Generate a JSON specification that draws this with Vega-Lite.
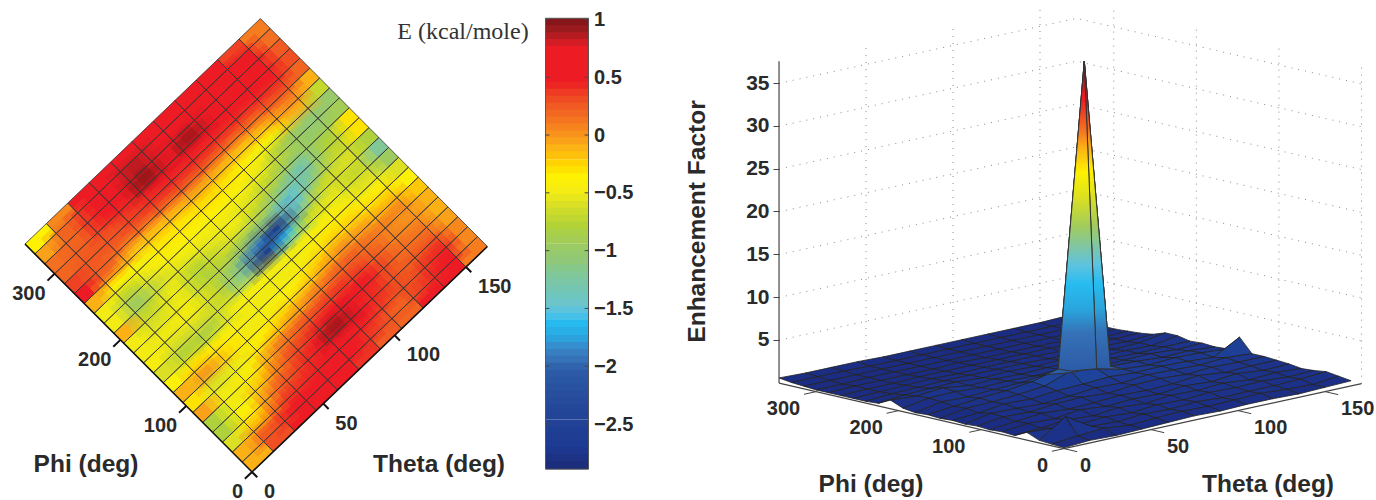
{"$schema":"https://vega.github.io/schema/vega-lite/v6.json","padding":0,"background":"white","config":{"view":{"stroke":null},"text":{"font":"Liberation Sans","fontWeight":"bold","fill":"#2a2a2a"}},
"datasets":{
"ticks":[{"axis":"phi","v":0},{"axis":"phi","v":100},{"axis":"phi","v":200},{"axis":"phi","v":300},{"axis":"theta","v":0},{"axis":"theta","v":50},{"axis":"theta","v":100},{"axis":"theta","v":150}],
"cells":[
{"t":7.5,"p":7.5,"E":-0.1},{"t":22.5,"p":7.5,"E":0.3},{"t":37.5,"p":7.5,"E":0.6},{"t":52.5,"p":7.5,"E":0.55},{"t":67.5,"p":7.5,"E":0.55},{"t":82.5,"p":7.5,"E":0.4},{"t":97.5,"p":7.5,"E":0.25},{"t":112.5,"p":7.5,"E":0.2},{"t":127.5,"p":7.5,"E":0.45},{"t":142.5,"p":7.5,"E":0.6},{"t":157.5,"p":7.5,"E":0.1},
{"t":7.5,"p":22.5,"E":-0.1},{"t":22.5,"p":22.5,"E":0.25},{"t":37.5,"p":22.5,"E":0.55},{"t":52.5,"p":22.5,"E":0.6},{"t":67.5,"p":22.5,"E":0.55},{"t":82.5,"p":22.5,"E":0.5},{"t":97.5,"p":22.5,"E":0.35},{"t":112.5,"p":22.5,"E":0.2},{"t":127.5,"p":22.5,"E":0.35},{"t":142.5,"p":22.5,"E":0.55},{"t":157.5,"p":22.5,"E":0.05},
{"t":7.5,"p":37.5,"E":-0.6},{"t":22.5,"p":37.5,"E":-0.2},{"t":37.5,"p":37.5,"E":0.3},{"t":52.5,"p":37.5,"E":0.4},{"t":67.5,"p":37.5,"E":0.5},{"t":82.5,"p":37.5,"E":0.6},{"t":97.5,"p":37.5,"E":0.5},{"t":112.5,"p":37.5,"E":0.35},{"t":127.5,"p":37.5,"E":0.25},{"t":142.5,"p":37.5,"E":0.4},{"t":157.5,"p":37.5,"E":0.05},
{"t":7.5,"p":52.5,"E":-0.8},{"t":22.5,"p":52.5,"E":-0.4},{"t":37.5,"p":52.5,"E":0.1},{"t":52.5,"p":52.5,"E":0.3},{"t":67.5,"p":52.5,"E":0.5},{"t":82.5,"p":52.5,"E":0.95},{"t":97.5,"p":52.5,"E":0.6},{"t":112.5,"p":52.5,"E":0.4},{"t":127.5,"p":52.5,"E":0.2},{"t":142.5,"p":52.5,"E":0.2},{"t":157.5,"p":52.5,"E":-0.05},
{"t":7.5,"p":67.5,"E":-0.8},{"t":22.5,"p":67.5,"E":-0.5},{"t":37.5,"p":67.5,"E":-0.2},{"t":52.5,"p":67.5,"E":0.2},{"t":67.5,"p":67.5,"E":0.35},{"t":82.5,"p":67.5,"E":0.6},{"t":97.5,"p":67.5,"E":0.6},{"t":112.5,"p":67.5,"E":0.45},{"t":127.5,"p":67.5,"E":0.2},{"t":142.5,"p":67.5,"E":0.1},{"t":157.5,"p":67.5,"E":-0.1},
{"t":7.5,"p":82.5,"E":-0.05},{"t":22.5,"p":82.5,"E":-0.5},{"t":37.5,"p":82.5,"E":-0.4},{"t":52.5,"p":82.5,"E":0},{"t":67.5,"p":82.5,"E":0.15},{"t":82.5,"p":82.5,"E":0.25},{"t":97.5,"p":82.5,"E":0.35},{"t":112.5,"p":82.5,"E":0.3},{"t":127.5,"p":82.5,"E":0.15},{"t":142.5,"p":82.5,"E":0},{"t":157.5,"p":82.5,"E":-0.1},
{"t":7.5,"p":97.5,"E":-0.3},{"t":22.5,"p":97.5,"E":-0.6},{"t":37.5,"p":97.5,"E":-0.5},{"t":52.5,"p":97.5,"E":-0.35},{"t":67.5,"p":97.5,"E":-0.2},{"t":82.5,"p":97.5,"E":-0.05},{"t":97.5,"p":97.5,"E":0.1},{"t":112.5,"p":97.5,"E":0.2},{"t":127.5,"p":97.5,"E":0.1},{"t":142.5,"p":97.5,"E":0.05},{"t":157.5,"p":97.5,"E":-0.2},
{"t":7.5,"p":112.5,"E":-0.1},{"t":22.5,"p":112.5,"E":0},{"t":37.5,"p":112.5,"E":-0.3},{"t":52.5,"p":112.5,"E":-0.5},{"t":67.5,"p":112.5,"E":-0.45},{"t":82.5,"p":112.5,"E":-0.4},{"t":97.5,"p":112.5,"E":-0.2},{"t":112.5,"p":112.5,"E":-0.05},{"t":127.5,"p":112.5,"E":-0.1},{"t":142.5,"p":112.5,"E":-0.2},{"t":157.5,"p":112.5,"E":-0.4},
{"t":7.5,"p":127.5,"E":-0.4},{"t":22.5,"p":127.5,"E":-0.3},{"t":37.5,"p":127.5,"E":-0.4},{"t":52.5,"p":127.5,"E":-0.5},{"t":67.5,"p":127.5,"E":-0.5},{"t":82.5,"p":127.5,"E":-0.5},{"t":97.5,"p":127.5,"E":-0.45},{"t":112.5,"p":127.5,"E":-0.3},{"t":127.5,"p":127.5,"E":-0.3},{"t":142.5,"p":127.5,"E":-0.4},{"t":157.5,"p":127.5,"E":-0.6},
{"t":7.5,"p":142.5,"E":-0.6},{"t":22.5,"p":142.5,"E":-0.8},{"t":37.5,"p":142.5,"E":-0.85},{"t":52.5,"p":142.5,"E":-0.5},{"t":67.5,"p":142.5,"E":-0.45},{"t":82.5,"p":142.5,"E":-0.5},{"t":97.5,"p":142.5,"E":-0.5},{"t":112.5,"p":142.5,"E":-0.45},{"t":127.5,"p":142.5,"E":-0.45},{"t":142.5,"p":142.5,"E":-0.6},{"t":157.5,"p":142.5,"E":-0.95},
{"t":7.5,"p":157.5,"E":-0.45},{"t":22.5,"p":157.5,"E":-0.6},{"t":37.5,"p":157.5,"E":-0.6},{"t":52.5,"p":157.5,"E":-0.7},{"t":67.5,"p":157.5,"E":-1.2},{"t":82.5,"p":157.5,"E":-2.85},{"t":97.5,"p":157.5,"E":-1.6},{"t":112.5,"p":157.5,"E":-0.7},{"t":127.5,"p":157.5,"E":-0.55},{"t":142.5,"p":157.5,"E":-0.7},{"t":157.5,"p":157.5,"E":-1.2},
{"t":7.5,"p":172.5,"E":-0.5},{"t":22.5,"p":172.5,"E":-0.5},{"t":37.5,"p":172.5,"E":-0.45},{"t":52.5,"p":172.5,"E":-0.7},{"t":67.5,"p":172.5,"E":-1.1},{"t":82.5,"p":172.5,"E":-1.9},{"t":97.5,"p":172.5,"E":-2.85},{"t":112.5,"p":172.5,"E":-1.4},{"t":127.5,"p":172.5,"E":-0.7},{"t":142.5,"p":172.5,"E":-0.6},{"t":157.5,"p":172.5,"E":-0.8},
{"t":7.5,"p":187.5,"E":-0.5},{"t":22.5,"p":187.5,"E":-0.6},{"t":37.5,"p":187.5,"E":-0.5},{"t":52.5,"p":187.5,"E":-0.8},{"t":67.5,"p":187.5,"E":-0.7},{"t":82.5,"p":187.5,"E":-0.9},{"t":97.5,"p":187.5,"E":-1.1},{"t":112.5,"p":187.5,"E":-1.5},{"t":127.5,"p":187.5,"E":-1.2},{"t":142.5,"p":187.5,"E":-0.7},{"t":157.5,"p":187.5,"E":-0.3},
{"t":7.5,"p":202.5,"E":-0.1},{"t":22.5,"p":202.5,"E":-0.7},{"t":37.5,"p":202.5,"E":-0.5},{"t":52.5,"p":202.5,"E":-0.75},{"t":67.5,"p":202.5,"E":-0.6},{"t":82.5,"p":202.5,"E":-0.5},{"t":97.5,"p":202.5,"E":-0.7},{"t":112.5,"p":202.5,"E":-1.0},{"t":127.5,"p":202.5,"E":-1.35},{"t":142.5,"p":202.5,"E":-0.8},{"t":157.5,"p":202.5,"E":-0.3},
{"t":7.5,"p":217.5,"E":-0.5},{"t":22.5,"p":217.5,"E":-0.95},{"t":37.5,"p":217.5,"E":-0.6},{"t":52.5,"p":217.5,"E":-0.5},{"t":67.5,"p":217.5,"E":-0.5},{"t":82.5,"p":217.5,"E":-0.5},{"t":97.5,"p":217.5,"E":-0.55},{"t":112.5,"p":217.5,"E":-0.7},{"t":127.5,"p":217.5,"E":-0.9},{"t":142.5,"p":217.5,"E":-1.0},{"t":157.5,"p":217.5,"E":-0.9},
{"t":7.5,"p":232.5,"E":-0.5},{"t":22.5,"p":232.5,"E":-0.7},{"t":37.5,"p":232.5,"E":-0.45},{"t":52.5,"p":232.5,"E":-0.4},{"t":67.5,"p":232.5,"E":-0.4},{"t":82.5,"p":232.5,"E":-0.35},{"t":97.5,"p":232.5,"E":-0.4},{"t":112.5,"p":232.5,"E":-0.5},{"t":127.5,"p":232.5,"E":-0.85},{"t":142.5,"p":232.5,"E":-1.05},{"t":157.5,"p":232.5,"E":-1.0},
{"t":7.5,"p":247.5,"E":-0.1},{"t":22.5,"p":247.5,"E":-0.35},{"t":37.5,"p":247.5,"E":-0.45},{"t":52.5,"p":247.5,"E":-0.3},{"t":67.5,"p":247.5,"E":-0.3},{"t":82.5,"p":247.5,"E":-0.25},{"t":97.5,"p":247.5,"E":-0.3},{"t":112.5,"p":247.5,"E":-0.4},{"t":127.5,"p":247.5,"E":-0.35},{"t":142.5,"p":247.5,"E":-0.1},{"t":157.5,"p":247.5,"E":-0.7},
{"t":7.5,"p":262.5,"E":0.55},{"t":22.5,"p":262.5,"E":0.2},{"t":37.5,"p":262.5,"E":-0.1},{"t":52.5,"p":262.5,"E":-0.1},{"t":67.5,"p":262.5,"E":-0.05},{"t":82.5,"p":262.5,"E":0},{"t":97.5,"p":262.5,"E":-0.05},{"t":112.5,"p":262.5,"E":-0.1},{"t":127.5,"p":262.5,"E":-0.05},{"t":142.5,"p":262.5,"E":0.1},{"t":157.5,"p":262.5,"E":-0.1},
{"t":7.5,"p":277.5,"E":0.35},{"t":22.5,"p":277.5,"E":0.25},{"t":37.5,"p":277.5,"E":0.25},{"t":52.5,"p":277.5,"E":0.3},{"t":67.5,"p":277.5,"E":0.35},{"t":82.5,"p":277.5,"E":0.35},{"t":97.5,"p":277.5,"E":0.35},{"t":112.5,"p":277.5,"E":0.3},{"t":127.5,"p":277.5,"E":0.3},{"t":142.5,"p":277.5,"E":0.35},{"t":157.5,"p":277.5,"E":0.2},
{"t":7.5,"p":292.5,"E":0.2},{"t":22.5,"p":292.5,"E":0.25},{"t":37.5,"p":292.5,"E":0.3},{"t":52.5,"p":292.5,"E":0.4},{"t":67.5,"p":292.5,"E":0.6},{"t":82.5,"p":292.5,"E":0.6},{"t":97.5,"p":292.5,"E":0.55},{"t":112.5,"p":292.5,"E":0.6},{"t":127.5,"p":292.5,"E":0.55},{"t":142.5,"p":292.5,"E":0.6},{"t":157.5,"p":292.5,"E":0.3},
{"t":7.5,"p":307.5,"E":0.15},{"t":22.5,"p":307.5,"E":0.2},{"t":37.5,"p":307.5,"E":0.5},{"t":52.5,"p":307.5,"E":0.55},{"t":67.5,"p":307.5,"E":1.0},{"t":82.5,"p":307.5,"E":0.65},{"t":97.5,"p":307.5,"E":0.95},{"t":112.5,"p":307.5,"E":0.55},{"t":127.5,"p":307.5,"E":0.6},{"t":142.5,"p":307.5,"E":0.55},{"t":157.5,"p":307.5,"E":0.25},
{"t":7.5,"p":322.5,"E":-0.05},{"t":22.5,"p":322.5,"E":0.2},{"t":37.5,"p":322.5,"E":0.55},{"t":52.5,"p":322.5,"E":0.55},{"t":67.5,"p":322.5,"E":0.85},{"t":82.5,"p":322.5,"E":0.6},{"t":97.5,"p":322.5,"E":0.7},{"t":112.5,"p":322.5,"E":0.55},{"t":127.5,"p":322.5,"E":0.65},{"t":142.5,"p":322.5,"E":0.45},{"t":157.5,"p":322.5,"E":0.15},
{"t":7.5,"p":337.5,"E":-0.35},{"t":22.5,"p":337.5,"E":0.05},{"t":37.5,"p":337.5,"E":0.5},{"t":52.5,"p":337.5,"E":0.45},{"t":67.5,"p":337.5,"E":0.5},{"t":82.5,"p":337.5,"E":0.55},{"t":97.5,"p":337.5,"E":0.5},{"t":112.5,"p":337.5,"E":0.5},{"t":127.5,"p":337.5,"E":0.55},{"t":142.5,"p":337.5,"E":0.35},{"t":157.5,"p":337.5,"E":0.1}
],
"bar":[{"e":0.98},{"e":0.92},{"e":0.86},{"e":0.8},{"e":0.74},{"e":0.68},{"e":0.62},{"e":0.56},{"e":0.49},{"e":0.43},{"e":0.37},{"e":0.31},{"e":0.25},{"e":0.19},{"e":0.13},{"e":0.07},{"e":0.01},{"e":-0.05},{"e":-0.11},{"e":-0.17},{"e":-0.24},{"e":-0.3},{"e":-0.36},{"e":-0.42},{"e":-0.48},{"e":-0.54},{"e":-0.6},{"e":-0.66},{"e":-0.72},{"e":-0.78},{"e":-0.84},{"e":-0.9},{"e":-0.97},{"e":-1.03},{"e":-1.09},{"e":-1.15},{"e":-1.21},{"e":-1.27},{"e":-1.33},{"e":-1.39},{"e":-1.45},{"e":-1.51},{"e":-1.57},{"e":-1.63},{"e":-1.69},{"e":-1.76},{"e":-1.82},{"e":-1.88},{"e":-1.94},{"e":-2},{"e":-2.06},{"e":-2.12},{"e":-2.18},{"e":-2.24},{"e":-2.3},{"e":-2.36},{"e":-2.42},{"e":-2.49},{"e":-2.55},{"e":-2.61},{"e":-2.67},{"e":-2.73},{"e":-2.79},{"e":-2.85}],
"walls":[
{"id":"z5","s":0,"t":0,"p":345,"z":5},{"id":"z5","s":1,"t":171,"p":345,"z":5},{"id":"z5","s":2,"t":171,"p":0,"z":5},
{"id":"z10","s":0,"t":0,"p":345,"z":10},{"id":"z10","s":1,"t":171,"p":345,"z":10},{"id":"z10","s":2,"t":171,"p":0,"z":10},
{"id":"z15","s":0,"t":0,"p":345,"z":15},{"id":"z15","s":1,"t":171,"p":345,"z":15},{"id":"z15","s":2,"t":171,"p":0,"z":15},
{"id":"z20","s":0,"t":0,"p":345,"z":20},{"id":"z20","s":1,"t":171,"p":345,"z":20},{"id":"z20","s":2,"t":171,"p":0,"z":20},
{"id":"z25","s":0,"t":0,"p":345,"z":25},{"id":"z25","s":1,"t":171,"p":345,"z":25},{"id":"z25","s":2,"t":171,"p":0,"z":25},
{"id":"z30","s":0,"t":0,"p":345,"z":30},{"id":"z30","s":1,"t":171,"p":345,"z":30},{"id":"z30","s":2,"t":171,"p":0,"z":30},
{"id":"z35","s":0,"t":0,"p":345,"z":35},{"id":"z35","s":1,"t":171,"p":345,"z":35},{"id":"z35","s":2,"t":171,"p":0,"z":35},
{"id":"t50","s":0,"t":50,"p":345,"z":0},{"id":"t50","s":1,"t":50,"p":345,"z":37.6},
{"id":"t100","s":0,"t":100,"p":345,"z":0},{"id":"t100","s":1,"t":100,"p":345,"z":37.6},
{"id":"t150","s":0,"t":150,"p":345,"z":0},{"id":"t150","s":1,"t":150,"p":345,"z":37.6},
{"id":"p100","s":0,"t":171,"p":100,"z":0},{"id":"p100","s":1,"t":171,"p":100,"z":37.6},
{"id":"p200","s":0,"t":171,"p":200,"z":0},{"id":"p200","s":1,"t":171,"p":200,"z":37.6},
{"id":"p300","s":0,"t":171,"p":300,"z":0},{"id":"p300","s":1,"t":171,"p":300,"z":37.6},
{"id":"p0","s":0,"t":171,"p":0,"z":0},{"id":"p0","s":1,"t":171,"p":0,"z":37.6}],
"axes3d":[{"id":"ap","s":0,"t":0,"p":345,"z":0},{"id":"ap","s":1,"t":0,"p":0,"z":0},{"id":"at","s":0,"t":0,"p":0,"z":0},{"id":"at","s":1,"t":171,"p":0,"z":0},{"id":"az","s":0,"t":0,"p":345,"z":0},{"id":"az","s":1,"t":0,"p":345,"z":37.6}],
"surface":[
{"t":165,"p":345,"z":0.5},{"t":150,"p":345,"z":0.4},{"t":135,"p":345,"z":0.4},{"t":120,"p":345,"z":0.4},{"t":105,"p":345,"z":0.4},{"t":90,"p":345,"z":0.4},{"t":75,"p":345,"z":0.4},{"t":60,"p":345,"z":0.4},{"t":45,"p":345,"z":0.5},{"t":30,"p":345,"z":0.5},{"t":15,"p":345,"z":0.5},{"t":0,"p":345,"z":0.6},
{"t":165,"p":330,"z":0.4},{"t":150,"p":330,"z":0.3},{"t":135,"p":330,"z":0.3},{"t":120,"p":330,"z":0.3},{"t":105,"p":330,"z":0.3},{"t":90,"p":330,"z":0.3},{"t":75,"p":330,"z":0.3},{"t":60,"p":330,"z":0.3},{"t":45,"p":330,"z":0.3},{"t":30,"p":330,"z":0.4},{"t":15,"p":330,"z":0.4},{"t":0,"p":330,"z":0.4},
{"t":165,"p":315,"z":0.3},{"t":150,"p":315,"z":0.3},{"t":135,"p":315,"z":0.3},{"t":120,"p":315,"z":0.3},{"t":105,"p":315,"z":0.3},{"t":90,"p":315,"z":0.3},{"t":75,"p":315,"z":0.3},{"t":60,"p":315,"z":0.3},{"t":45,"p":315,"z":0.3},{"t":30,"p":315,"z":0.3},{"t":15,"p":315,"z":0.3},{"t":0,"p":315,"z":0.3},
{"t":165,"p":300,"z":0.3},{"t":150,"p":300,"z":0.3},{"t":135,"p":300,"z":0.3},{"t":120,"p":300,"z":0.3},{"t":105,"p":300,"z":0.3},{"t":90,"p":300,"z":0.3},{"t":75,"p":300,"z":0.3},{"t":60,"p":300,"z":0.3},{"t":45,"p":300,"z":0.3},{"t":30,"p":300,"z":0.3},{"t":15,"p":300,"z":0.2},{"t":0,"p":300,"z":0.2},
{"t":165,"p":285,"z":0.3},{"t":150,"p":285,"z":0.3},{"t":135,"p":285,"z":0.3},{"t":120,"p":285,"z":0.3},{"t":105,"p":285,"z":0.3},{"t":90,"p":285,"z":0.3},{"t":75,"p":285,"z":0.4},{"t":60,"p":285,"z":0.3},{"t":45,"p":285,"z":0.3},{"t":30,"p":285,"z":0.3},{"t":15,"p":285,"z":0.3},{"t":0,"p":285,"z":0.2},
{"t":165,"p":270,"z":0.4},{"t":150,"p":270,"z":0.3},{"t":135,"p":270,"z":0.4},{"t":120,"p":270,"z":0.4},{"t":105,"p":270,"z":0.4},{"t":90,"p":270,"z":0.4},{"t":75,"p":270,"z":0.4},{"t":60,"p":270,"z":0.4},{"t":45,"p":270,"z":0.4},{"t":30,"p":270,"z":0.3},{"t":15,"p":270,"z":0.3},{"t":0,"p":270,"z":0.2},
{"t":165,"p":255,"z":0.5},{"t":150,"p":255,"z":0.5},{"t":135,"p":255,"z":0.5},{"t":120,"p":255,"z":0.4},{"t":105,"p":255,"z":0.5},{"t":90,"p":255,"z":0.5},{"t":75,"p":255,"z":0.5},{"t":60,"p":255,"z":0.4},{"t":45,"p":255,"z":0.5},{"t":30,"p":255,"z":0.4},{"t":15,"p":255,"z":0.3},{"t":0,"p":255,"z":0.2},
{"t":165,"p":240,"z":0.7},{"t":150,"p":240,"z":0.5},{"t":135,"p":240,"z":0.6},{"t":120,"p":240,"z":0.6},{"t":105,"p":240,"z":0.5},{"t":90,"p":240,"z":0.6},{"t":75,"p":240,"z":0.6},{"t":60,"p":240,"z":0.6},{"t":45,"p":240,"z":0.6},{"t":30,"p":240,"z":0.5},{"t":15,"p":240,"z":0.4},{"t":0,"p":240,"z":0.2},
{"t":165,"p":225,"z":1.2},{"t":150,"p":225,"z":0.7},{"t":135,"p":225,"z":0.6},{"t":120,"p":225,"z":0.8},{"t":105,"p":225,"z":0.7},{"t":90,"p":225,"z":0.6},{"t":75,"p":225,"z":0.7},{"t":60,"p":225,"z":0.6},{"t":45,"p":225,"z":0.8},{"t":30,"p":225,"z":0.7},{"t":15,"p":225,"z":0.6},{"t":0,"p":225,"z":0.3},
{"t":165,"p":210,"z":1.2},{"t":150,"p":210,"z":0.7},{"t":135,"p":210,"z":0.8},{"t":120,"p":210,"z":0.7},{"t":105,"p":210,"z":0.8},{"t":90,"p":210,"z":0.8},{"t":75,"p":210,"z":0.7},{"t":60,"p":210,"z":0.8},{"t":45,"p":210,"z":0.7},{"t":30,"p":210,"z":1.1},{"t":15,"p":210,"z":0.8},{"t":0,"p":210,"z":1},
{"t":165,"p":195,"z":0.9},{"t":150,"p":195,"z":0.9},{"t":135,"p":195,"z":0.8},{"t":120,"p":195,"z":0.9},{"t":105,"p":195,"z":0.8},{"t":90,"p":195,"z":0.9},{"t":75,"p":195,"z":0.8},{"t":60,"p":195,"z":0.9},{"t":45,"p":195,"z":0.8},{"t":30,"p":195,"z":1},{"t":15,"p":195,"z":0.9},{"t":0,"p":195,"z":0.4},
{"t":165,"p":180,"z":1},{"t":150,"p":180,"z":0.9},{"t":135,"p":180,"z":1.1},{"t":120,"p":180,"z":1},{"t":105,"p":180,"z":0.9},{"t":90,"p":180,"z":0.9},{"t":75,"p":180,"z":1.3},{"t":60,"p":180,"z":1},{"t":45,"p":180,"z":0.9},{"t":30,"p":180,"z":0.7},{"t":15,"p":180,"z":0.8},{"t":0,"p":180,"z":0.2},
{"t":165,"p":165,"z":0.9},{"t":150,"p":165,"z":1.1},{"t":135,"p":165,"z":1},{"t":120,"p":165,"z":1.2},{"t":105,"p":165,"z":1.3},{"t":90,"p":165,"z":37.6},{"t":75,"p":165,"z":2.3},{"t":60,"p":165,"z":1.5},{"t":45,"p":165,"z":1.1},{"t":30,"p":165,"z":0.9},{"t":15,"p":165,"z":0.6},{"t":0,"p":165,"z":0.3},
{"t":165,"p":150,"z":1},{"t":150,"p":150,"z":1.2},{"t":135,"p":150,"z":1.3},{"t":120,"p":150,"z":1.1},{"t":105,"p":150,"z":1.3},{"t":90,"p":150,"z":2},{"t":75,"p":150,"z":2.4},{"t":60,"p":150,"z":1.3},{"t":45,"p":150,"z":1},{"t":30,"p":150,"z":0.8},{"t":15,"p":150,"z":0.7},{"t":0,"p":150,"z":0.2},
{"t":165,"p":135,"z":2.7},{"t":150,"p":135,"z":1},{"t":135,"p":135,"z":1.2},{"t":120,"p":135,"z":1.3},{"t":105,"p":135,"z":1.2},{"t":90,"p":135,"z":1.4},{"t":75,"p":135,"z":1.2},{"t":60,"p":135,"z":1.1},{"t":45,"p":135,"z":0.8},{"t":30,"p":135,"z":0.9},{"t":15,"p":135,"z":0.5},{"t":0,"p":135,"z":0.3},
{"t":165,"p":120,"z":1.1},{"t":150,"p":120,"z":1.3},{"t":135,"p":120,"z":1.1},{"t":120,"p":120,"z":1.2},{"t":105,"p":120,"z":1.3},{"t":90,"p":120,"z":1},{"t":75,"p":120,"z":1.1},{"t":60,"p":120,"z":0.8},{"t":45,"p":120,"z":0.6},{"t":30,"p":120,"z":0.7},{"t":15,"p":120,"z":0.8},{"t":0,"p":120,"z":0.2},
{"t":165,"p":105,"z":1.1},{"t":150,"p":105,"z":1.1},{"t":135,"p":105,"z":1.2},{"t":120,"p":105,"z":1},{"t":105,"p":105,"z":1.2},{"t":90,"p":105,"z":1.1},{"t":75,"p":105,"z":0.8},{"t":60,"p":105,"z":1},{"t":45,"p":105,"z":0.9},{"t":30,"p":105,"z":0.6},{"t":15,"p":105,"z":0.7},{"t":0,"p":105,"z":0.3},
{"t":165,"p":90,"z":1},{"t":150,"p":90,"z":1},{"t":135,"p":90,"z":0.9},{"t":120,"p":90,"z":1.2},{"t":105,"p":90,"z":0.9},{"t":90,"p":90,"z":0.8},{"t":75,"p":90,"z":0.9},{"t":60,"p":90,"z":0.7},{"t":45,"p":90,"z":0.6},{"t":30,"p":90,"z":0.8},{"t":15,"p":90,"z":0.5},{"t":0,"p":90,"z":0.2},
{"t":165,"p":75,"z":0.9},{"t":150,"p":75,"z":0.8},{"t":135,"p":75,"z":1.1},{"t":120,"p":75,"z":0.8},{"t":105,"p":75,"z":1},{"t":90,"p":75,"z":0.7},{"t":75,"p":75,"z":0.8},{"t":60,"p":75,"z":0.6},{"t":45,"p":75,"z":0.9},{"t":30,"p":75,"z":0.5},{"t":15,"p":75,"z":0.6},{"t":0,"p":75,"z":0.3},
{"t":165,"p":60,"z":0.7},{"t":150,"p":60,"z":0.9},{"t":135,"p":60,"z":0.7},{"t":120,"p":60,"z":1},{"t":105,"p":60,"z":0.8},{"t":90,"p":60,"z":0.9},{"t":75,"p":60,"z":0.6},{"t":60,"p":60,"z":0.8},{"t":45,"p":60,"z":0.5},{"t":30,"p":60,"z":0.7},{"t":15,"p":60,"z":0.4},{"t":0,"p":60,"z":0.2},
{"t":165,"p":45,"z":0.8},{"t":150,"p":45,"z":0.7},{"t":135,"p":45,"z":0.9},{"t":120,"p":45,"z":0.8},{"t":105,"p":45,"z":0.9},{"t":90,"p":45,"z":0.7},{"t":75,"p":45,"z":0.8},{"t":60,"p":45,"z":0.5},{"t":45,"p":45,"z":0.7},{"t":30,"p":45,"z":0.5},{"t":15,"p":45,"z":0.7},{"t":0,"p":45,"z":0.9},
{"t":165,"p":30,"z":1},{"t":150,"p":30,"z":0.8},{"t":135,"p":30,"z":0.7},{"t":120,"p":30,"z":0.7},{"t":105,"p":30,"z":0.6},{"t":90,"p":30,"z":0.8},{"t":75,"p":30,"z":0.6},{"t":60,"p":30,"z":0.7},{"t":45,"p":30,"z":0.5},{"t":30,"p":30,"z":0.6},{"t":15,"p":30,"z":2.4},{"t":0,"p":30,"z":0.3},
{"t":165,"p":15,"z":0.8},{"t":150,"p":15,"z":0.5},{"t":135,"p":15,"z":0.6},{"t":120,"p":15,"z":0.8},{"t":105,"p":15,"z":0.7},{"t":90,"p":15,"z":0.6},{"t":75,"p":15,"z":0.7},{"t":60,"p":15,"z":0.6},{"t":45,"p":15,"z":0.4},{"t":30,"p":15,"z":0.7},{"t":15,"p":15,"z":0.5},{"t":0,"p":15,"z":0.2},
{"t":165,"p":0,"z":0.6},{"t":150,"p":0,"z":0.5},{"t":135,"p":0,"z":0.4},{"t":120,"p":0,"z":0.5},{"t":105,"p":0,"z":0.5},{"t":90,"p":0,"z":0.4},{"t":75,"p":0,"z":0.5},{"t":60,"p":0,"z":0.4},{"t":45,"p":0,"z":0.3},{"t":30,"p":0,"z":0.2},{"t":15,"p":0,"z":0.3},{"t":0,"p":0,"z":0.1}
]},
"spacing":51,
"hconcat":[
{"spacing":9.5,"hconcat":[
{"width":535,"height":500,
"encoding":{"x":{"field":"sx","type":"quantitative","scale":{"domain":[0,535],"nice":false,"zero":false},"axis":null},"y":{"field":"sy","type":"quantitative","scale":{"domain":[500,0],"nice":false,"zero":false},"axis":null}},
"layer":[
{"data":{"name":"cells"},"transform":[{"calculate":"252+1.4267*datum.t-0.658*datum.p","as":"sx"},{"calculate":"472-1.3667*datum.t-0.6607*datum.p","as":"sy"}],
"layer":[
{"mark":{"type":"point","shape":"M5.77,-15.21L15.63,-5.29L-5.77,15.21L-15.63,5.29Z","filled":true,"size":4,"opacity":1,"strokeWidth":0},"encoding":{"color":{"field":"E","type":"quantitative","legend":null,"scale":{"clamp":true,"domain":[-2.89,-2.7,-2.55,-2.3,-2.05,-1.95,-1.85,-1.75,-1.62,-1.52,-1.45,-1.25,-1.1,-0.92,-0.78,-0.62,-0.5,-0.35,-0.25,-0.1,0,0.15,0.3,0.45,0.75,0.9,1.01],"range":["#1b2a75","#1c3a92","#1f3f94","#264b9b","#2c5ba6","#3570b5","#3a86c8","#2aa5dd","#27bcf0","#5cc3e0","#6dc5c9","#7fc6a4","#8fc77b","#a2cc5a","#b2d235","#d6de26","#f2eb14","#fff200","#ffd400","#fbb116","#f7941d","#f36f21","#f04e23","#ed1c24","#ed1c24","#a01c20","#7d1416"]}}}},
{"transform":[{"filter":"datum.t>10&&datum.t<155&&datum.p>10&&datum.p<335"}],"mark":{"type":"point","shape":"M5.77,-15.21L15.63,-5.29L-5.77,15.21L-15.63,5.29Z","filled":true,"size":16,"opacity":0.22,"strokeWidth":0},"encoding":{"color":{"field":"E","type":"quantitative","legend":null}}},
{"transform":[{"filter":"datum.t>10&&datum.t<155&&datum.p>10&&datum.p<335"}],"mark":{"type":"point","shape":"M5.77,-15.21L15.63,-5.29L-5.77,15.21L-15.63,5.29Z","filled":true,"size":8.5,"opacity":0.35,"strokeWidth":0},"encoding":{"color":{"field":"E","type":"quantitative","legend":null}}},
{"mark":{"type":"point","shape":"M5.77,-15.21L15.63,-5.29L-5.77,15.21L-15.63,5.29Z","filled":false,"size":4,"opacity":1,"stroke":"#333","strokeWidth":0.8}}
]},
{"data":{"name":"ticks"},"transform":[{"calculate":"datum.axis=='theta'?datum.v:0","as":"t"},{"calculate":"datum.axis=='phi'?datum.v:0","as":"p"},{"calculate":"datum.axis=='theta'?datum.v:-5","as":"t1"},{"calculate":"datum.axis=='phi'?datum.v:-8","as":"p1"},{"calculate":"252+1.4267*datum.t-0.658*datum.p","as":"sx"},{"calculate":"472-1.3667*datum.t-0.6607*datum.p","as":"sy"},{"calculate":"252+1.4267*datum.t1-0.658*datum.p1","as":"sx1"},{"calculate":"472-1.3667*datum.t1-0.6607*datum.p1","as":"sy1"}],
"layer":[
{"mark":{"type":"rule","stroke":"#111","strokeWidth":2},"encoding":{"x2":{"field":"sx1"},"y2":{"field":"sy1"}}},
{"transform":[{"filter":"datum.axis=='phi'"}],"mark":{"type":"text","align":"right","dx":-9,"dy":20,"fontSize":20,"baseline":"middle"},"encoding":{"text":{"field":"v","type":"quantitative"}}},
{"transform":[{"filter":"datum.axis=='theta'"}],"mark":{"type":"text","align":"left","dx":12,"dy":20,"fontSize":20,"baseline":"middle"},"encoding":{"text":{"field":"v","type":"quantitative"}}}
]},
{"data":{"values":[{"id":"a","s":0,"t":0,"p":345},{"id":"a","s":1,"t":0,"p":0},{"id":"a","s":2,"t":165,"p":0}]},"transform":[{"calculate":"252+1.4267*datum.t-0.658*datum.p","as":"sx"},{"calculate":"472-1.3667*datum.t-0.6607*datum.p","as":"sy"}],"mark":{"type":"line","stroke":"#111","strokeWidth":1.6},"encoding":{"order":{"field":"s"},"detail":{"field":"id"}}},
{"data":{"values":[{"name":"Phi (deg)"}]},"transform":[{"calculate":"86","as":"sx"},{"calculate":"465","as":"sy"}],"mark":{"type":"text","fontSize":24.5,"baseline":"middle"},"encoding":{"text":{"field":"name","type":"nominal"}}},
{"data":{"values":[{"name":"Theta (deg)"}]},"transform":[{"calculate":"439","as":"sx"},{"calculate":"465","as":"sy"}],"mark":{"type":"text","fontSize":24.5,"baseline":"middle"},"encoding":{"text":{"field":"name","type":"nominal"}}},
{"data":{"values":[{"name":"E (kcal/mole)"}]},"transform":[{"calculate":"463","as":"sx"},{"calculate":"32","as":"sy"}],"mark":{"type":"text","font":"Liberation Serif","fontWeight":"normal","fontSize":24,"baseline":"middle","fill":"#333"},"encoding":{"text":{"field":"name","type":"nominal"}}}
]},
{"width":43,"height":500,
"encoding":{"x":{"datum":0,"scale":{"domain":[0,1],"nice":false,"zero":false},"axis":null},"x2":{"datum":1}},
"layer":[
{"data":{"name":"bar"},"transform":[{"calculate":"datum.e-0.04","as":"lo"},{"calculate":"datum.e+0.03","as":"hi"}],"mark":{"type":"rect","strokeWidth":0},"encoding":{"y":{"field":"lo","type":"quantitative","scale":{"domain":[-3.157,1.168],"nice":false,"zero":false},"axis":{"orient":"right","title":null,"values":[1,0.5,0,-0.5,-1,-1.5,-2,-2.5],"format":"~g","domain":false,"ticks":false,"grid":false,"labelFont":"Liberation Sans","labelFontWeight":"bold","labelFontSize":20,"labelColor":"#2a2a2a","labelPadding":5}},"y2":{"field":"hi"},"color":{"field":"e","type":"quantitative","legend":null,"scale":{"clamp":true,"domain":[-2.89,-2.7,-2.55,-2.3,-2.05,-1.95,-1.85,-1.75,-1.62,-1.52,-1.45,-1.25,-1.1,-0.92,-0.78,-0.62,-0.5,-0.35,-0.25,-0.1,0,0.15,0.3,0.45,0.75,0.9,1.01],"range":["#1b2a75","#1c3a92","#1f3f94","#264b9b","#2c5ba6","#3570b5","#3a86c8","#2aa5dd","#27bcf0","#5cc3e0","#6dc5c9","#7fc6a4","#8fc77b","#a2cc5a","#b2d235","#d6de26","#f2eb14","#fff200","#ffd400","#fbb116","#f7941d","#f36f21","#f04e23","#ed1c24","#ed1c24","#a01c20","#7d1416"]}}}},
{"data":{"values":[{"lo":-2.89,"hi":1.01}]},"mark":{"type":"rect","fill":null,"stroke":"#555","strokeWidth":1},"encoding":{"y":{"field":"lo","type":"quantitative"},"y2":{"field":"hi"}}},
{"data":{"values":[{"e":1},{"e":0.5},{"e":0},{"e":-0.5},{"e":-1},{"e":-1.5},{"e":-2},{"e":-2.5}]},"mark":{"type":"rule","stroke":"#444","strokeWidth":1},"encoding":{"y":{"field":"e","type":"quantitative"},"x":{"datum":0},"x2":{"datum":0.09}}},
{"data":{"values":[{"e":1},{"e":0.5},{"e":0},{"e":-0.5},{"e":-1},{"e":-1.5},{"e":-2},{"e":-2.5}]},"mark":{"type":"rule","stroke":"#444","strokeWidth":1},"encoding":{"y":{"field":"e","type":"quantitative"},"x":{"datum":0.91},"x2":{"datum":1}}}
]}
]},
{"width":599,"height":500,
"encoding":{"x":{"field":"xv","type":"quantitative","scale":{"domain":[-285,314],"nice":false,"zero":false},"axis":null},"y":{"field":"v","type":"quantitative","scale":{"domain":[-13.7,44.7],"nice":false,"zero":false},"axis":{"title":"Enhancement Factor","titleFont":"Liberation Sans","titleFontWeight":"bold","titleFontSize":24.5,"titleColor":"#2a2a2a","titlePadding":36,"titleY":221,"values":[5,10,15,20,25,30,35],"domain":false,"grid":false,"ticks":true,"tickSize":6,"tickColor":"#444","labelFont":"Liberation Sans","labelFontWeight":"bold","labelFontSize":21,"labelColor":"#2a2a2a","labelPadding":4}}},
"layer":[
{"data":{"name":"walls"},"transform":[{"calculate":"1.74*datum.t-0.826*datum.p","as":"xv"},{"calculate":"datum.z-7.7+0.0444*datum.t+0.0222*datum.p","as":"v"}],"mark":{"type":"line","stroke":"#8a8a8a","strokeWidth":1,"strokeDash":[1,6]},"encoding":{"detail":{"field":"id"},"order":{"field":"s"}}},
{"data":{"name":"surface"},"transform":[{"calculate":"[0,1,2,3,4]","as":"c"},{"flatten":["c"]},{"calculate":"datum.t-((datum.c==1||datum.c==2)?15:0)","as":"ct"},{"calculate":"datum.p-((datum.c==2||datum.c==3)?15:0)","as":"cp"},{"filter":"datum.ct>=0&&datum.cp>=0&&datum.ct<165&&datum.cp<345"},{"calculate":"datum.ct+'_'+datum.cp","as":"cell"},{"joinaggregate":[{"op":"mean","field":"z","as":"mz"}],"groupby":["cell"]},{"calculate":"1.74*datum.t-0.826*datum.p","as":"xv"},{"calculate":"datum.z-7.7+0.0444*datum.t+0.0222*datum.p","as":"v"}],
"layer":[
{"mark":{"type":"line","stroke":"#222","strokeWidth":0.8},"encoding":{"detail":{"field":"cell"},"order":{"field":"c"},"fill":{"field":"mz","type":"quantitative","legend":null,"scale":{"clamp":true,"domain":[0,0.6,1.2,2.5,5],"range":["#1a2a7e","#1c2f86","#1d3890","#2059ab","#2a78c4"]}}}},
{"transform":[{"filter":"(datum.ct==75||datum.ct==90)&&(datum.cp==150||datum.cp==165)"}],"mark":{"type":"line","stroke":"#333","strokeWidth":1,"fill":{"gradient":"linear","x1":0,"y1":0,"x2":0,"y2":1,"stops":[{"offset":0,"color":"#7d1416"},{"offset":0.06,"color":"#c01a20"},{"offset":0.12,"color":"#ed1c24"},{"offset":0.22,"color":"#f36f21"},{"offset":0.28,"color":"#fbb116"},{"offset":0.36,"color":"#fff200"},{"offset":0.45,"color":"#d6de26"},{"offset":0.53,"color":"#a2cc5a"},{"offset":0.6,"color":"#7fc6a4"},{"offset":0.66,"color":"#5cc3e0"},{"offset":0.72,"color":"#27bcf0"},{"offset":0.8,"color":"#2aa5dd"},{"offset":0.88,"color":"#3570b5"},{"offset":1,"color":"#2c5ba6"}]}},"encoding":{"detail":{"field":"cell"},"order":{"field":"c"}}}
]},
{"data":{"name":"axes3d"},"transform":[{"calculate":"1.74*datum.t-0.826*datum.p","as":"xv"},{"calculate":"datum.z-7.7+0.0444*datum.t+0.0222*datum.p","as":"v"}],"mark":{"type":"line","stroke":"#444","strokeWidth":1.2},"encoding":{"detail":{"field":"id"},"order":{"field":"s"}}},
{"data":{"name":"ticks"},"transform":[{"calculate":"datum.v","as":"lab"},{"calculate":"datum.axis=='theta'?datum.v:0","as":"t"},{"calculate":"datum.axis=='phi'?datum.v:0","as":"p"},{"calculate":"datum.axis=='theta'?datum.v:-7","as":"t1"},{"calculate":"datum.axis=='phi'?datum.v:-16","as":"p1"},{"calculate":"1.74*datum.t-0.826*datum.p","as":"xv"},{"calculate":"-7.7+0.0444*datum.t+0.0222*datum.p","as":"v"},{"calculate":"1.74*datum.t1-0.826*datum.p1","as":"xv1"},{"calculate":"-7.7+0.0444*datum.t1+0.0222*datum.p1","as":"v1"}],
"layer":[
{"mark":{"type":"rule","stroke":"#444","strokeWidth":1},"encoding":{"x2":{"field":"xv1"},"y2":{"field":"v1"}}},
{"transform":[{"filter":"datum.axis=='phi'"}],"mark":{"type":"text","align":"right","dx":-16,"dy":17,"fontSize":20,"baseline":"middle"},"encoding":{"text":{"field":"lab","type":"quantitative"}}},
{"transform":[{"filter":"datum.axis=='theta'"}],"mark":{"type":"text","align":"left","dx":16,"dy":17,"fontSize":20,"baseline":"middle"},"encoding":{"text":{"field":"lab","type":"quantitative"}}}
]},
{"data":{"values":[{"name":"Phi (deg)"}]},"transform":[{"calculate":"-193","as":"xv"},{"calculate":"-11.96","as":"v"}],"mark":{"type":"text","fontSize":24.5,"baseline":"middle"},"encoding":{"text":{"field":"name","type":"nominal"}}},
{"data":{"values":[{"name":"Theta (deg)"}]},"transform":[{"calculate":"204","as":"xv"},{"calculate":"-11.96","as":"v"}],"mark":{"type":"text","fontSize":24.5,"baseline":"middle"},"encoding":{"text":{"field":"name","type":"nominal"}}}
]}
]}
